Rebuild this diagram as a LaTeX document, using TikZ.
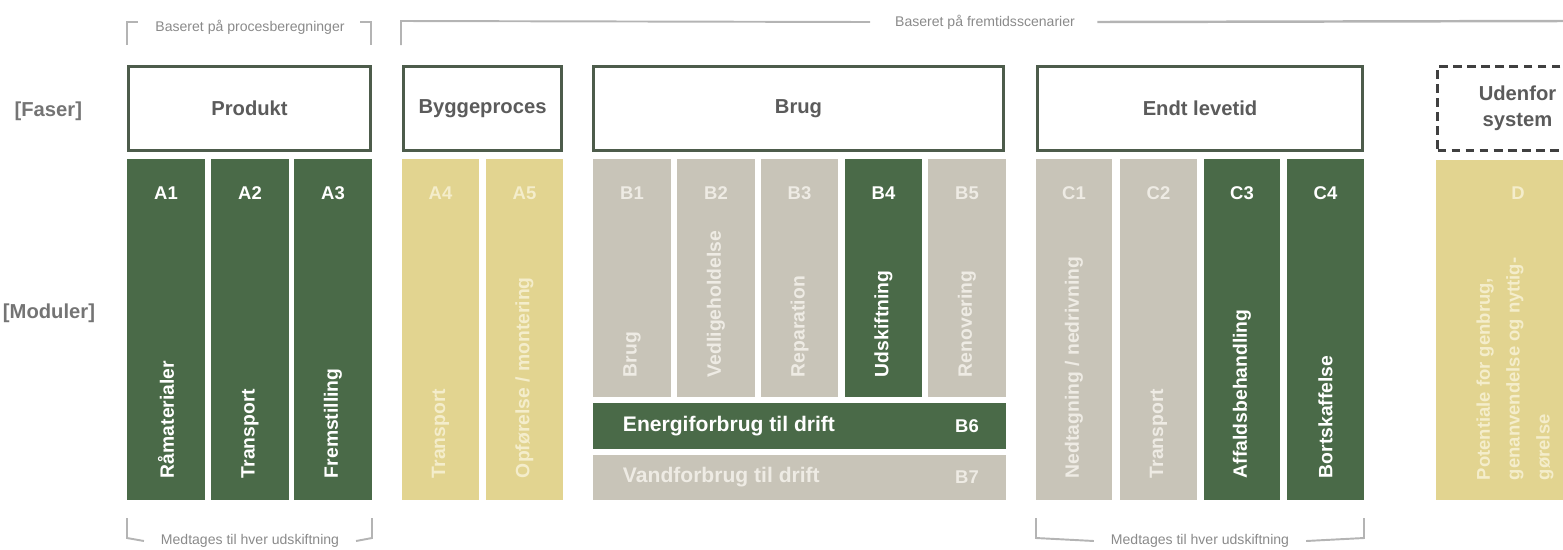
\documentclass[tikz,border=0pt]{standalone}
\usepackage{fontspec}
\setmainfont{Liberation Sans}
\usetikzlibrary{positioning}

\definecolor{moss}{HTML}{4A6A48}
\definecolor{stone}{HTML}{C8C4B8}
\definecolor{straw}{HTML}{E2D490}
\definecolor{frame}{HTML}{4D5C4B}
\definecolor{ink}{HTML}{5B5B5B}
\definecolor{note}{HTML}{8A8A8A}
\definecolor{rulegray}{HTML}{B4B4B4}
\definecolor{paleink}{HTML}{EEEBE4}
\definecolor{strawink}{HTML}{F4EDCB}

\begin{document}
\begin{tikzpicture}[x=0.02cm, y=-0.02cm,
  every node/.style={inner sep=0pt, outer sep=0pt},
  felt/.style 2 args={anchor=north west, minimum width=#1*0.02cm, minimum height=#2*0.02cm},
  fase/.style={draw=frame, line width=1.6pt, fill=white, text=ink, align=center,
    font=\bfseries\fontsize{11.5}{15}\selectfont},
  ude/.style={fase, draw=black!75, dash pattern=on 5pt off 3pt},
  gron/.style={fill=moss},
  graa/.style={fill=stone},
  gul/.style={fill=straw},
  kode/.style={font=\bfseries\fontsize{10.5}{12}\selectfont},
  navn/.style={rotate=90, anchor=west, font=\bfseries\fontsize{11}{13}\selectfont},
  bar/.style={font=\bfseries\fontsize{12}{14}\selectfont},
  noter/.style={text=note, font=\fontsize{8}{9}\selectfont},
  klamme/.style={draw=rulegray, line width=1.1pt},
  side/.style={anchor=east, text=ink!85, font=\bfseries\fontsize{11.5}{14}\selectfont}
]
\useasboundingbox (0,0) rectangle (1563,549);

% venstre
\node[side] (faser) at (82,111) {[Faser]};
\node[side] (moduler) at (95,313) {[Moduler]};

% faser
\node[fase, felt={242}{84}] (produkt) at (128.5,66.5) {Produkt};
\node[fase, felt={158}{84}] (bygge) at (403.5,66.5) {Byggeproces};
\node[fase, felt={410}{84}] (brug) at (593.5,66.5) {Brug};
\node[fase, felt={325}{84}] (endt) at (1037.5,66.5) {Endt levetid};
\node[ude, felt={160}{84}] (udenfor) at (1437.5,66.5) {Udenfor\\system};

% A
\node[gron, felt={78}{341}] (a1) at (127,159) {};
\node[gron, felt={78}{341}] (a2) at (211,159) {};
\node[gron, felt={78}{341}] (a3) at (294,159) {};
\node[gul, felt={77}{341}] (a4) at (402,159) {};
\node[gul, felt={77}{341}] (a5) at (486,159) {};

\node[kode, text=white] at ([yshift=-0.68cm]a1.north) {A1};
\node[kode, text=white] at ([yshift=-0.68cm]a2.north) {A2};
\node[kode, text=white] at ([yshift=-0.68cm]a3.north) {A3};
\node[kode, text=strawink] at ([yshift=-0.68cm]a4.north) {A4};
\node[kode, text=strawink] at ([yshift=-0.68cm]a5.north) {A5};

\node[navn, text=white] at ([yshift=0.44cm]a1.south) {Råmaterialer};
\node[navn, text=white] at ([yshift=0.44cm]a2.south) {Transport};
\node[navn, text=white] at ([yshift=0.44cm]a3.south) {Fremstilling};
\node[navn, text=strawink] at ([yshift=0.44cm]a4.south) {Transport};
\node[navn, text=strawink] at ([yshift=0.44cm]a5.south) {Opførelse / montering};

% B
\node[graa, felt={78}{238}] (b1) at (593,159) {};
\node[graa, felt={78}{238}] (b2) at (677,159) {};
\node[graa, felt={77}{238}] (b3) at (761,159) {};
\node[gron, felt={77}{238}] (b4) at (845,159) {};
\node[graa, felt={78}{238}] (b5) at (928,159) {};
\node[gron, felt={413}{46}] (b6) at (593,403) {};
\node[graa, felt={413}{45}] (b7) at (593,455) {};

\node[kode, text=paleink] at ([yshift=-0.68cm]b1.north) {B1};
\node[kode, text=paleink] at ([yshift=-0.68cm]b2.north) {B2};
\node[kode, text=paleink] at ([yshift=-0.68cm]b3.north) {B3};
\node[kode, text=white] at ([yshift=-0.68cm]b4.north) {B4};
\node[kode, text=paleink] at ([yshift=-0.68cm]b5.north) {B5};

\node[navn, text=paleink] at ([yshift=0.4cm]b1.south) {Brug};
\node[navn, text=paleink] at ([yshift=0.4cm]b2.south) {Vedligeholdelse};
\node[navn, text=paleink] at ([yshift=0.4cm]b3.south) {Reparation};
\node[navn, text=white] at ([yshift=0.4cm]b4.south) {Udskiftning};
\node[navn, text=paleink] at ([yshift=0.4cm]b5.south) {Renovering};

\node[bar, anchor=west, text=white] at ([xshift=0.6cm]b6.west) {Energiforbrug til drift};
\node[kode, text=white] at ([xshift=-0.78cm]b6.east) {B6};
\node[bar, anchor=west, text=paleink] at ([xshift=0.6cm]b7.west) {Vandforbrug til drift};
\node[kode, text=paleink] at ([xshift=-0.78cm]b7.east) {B7};

% C
\node[graa, felt={76}{341}] (c1) at (1036,159) {};
\node[graa, felt={77}{341}] (c2) at (1120,159) {};
\node[gron, felt={76}{341}] (c3) at (1204,159) {};
\node[gron, felt={77}{341}] (c4) at (1287,159) {};

\node[kode, text=paleink] at ([yshift=-0.68cm]c1.north) {C1};
\node[kode, text=paleink] at ([yshift=-0.68cm]c2.north) {C2};
\node[kode, text=white] at ([yshift=-0.68cm]c3.north) {C3};
\node[kode, text=white] at ([yshift=-0.68cm]c4.north) {C4};

\node[navn, text=paleink] at ([yshift=0.44cm]c1.south) {Nedtagning / nedrivning};
\node[navn, text=paleink] at ([yshift=0.44cm]c2.south) {Transport};
\node[navn, text=white] at ([yshift=0.44cm]c3.south) {Affaldsbehandling};
\node[navn, text=white] at ([yshift=0.44cm]c4.south) {Bortskaffelse};

% D
\node[gul, felt={164}{340}] (d) at (1436,160) {};
\node[kode, text=strawink] at ([yshift=-0.66cm]d.north) {D};
\node[navn, text=strawink, align=left, font=\bfseries\fontsize{10.5}{17}\selectfont]
  at ([yshift=0.4cm, xshift=-0.06cm]d.south) {Potentiale for genbrug,\\genanvendelse og nyttig-\\gørelse};

% klammer
\node[noter] (proces) at (250,27) {Baseret på procesberegninger};
\node[noter] (fremtid) at (985,22) {Baseret på fremtidsscenarier};
\node[noter] (medtag1) at (250,541) {Medtages til hver udskiftning};
\node[noter] (medtag2) at (1200,541) {Medtages til hver udskiftning};

\draw[klamme] (127,45) -- (127,22) -- (138,22);
\draw[klamme] (360,22) -- (371,22) -- (371,45);
\draw[klamme] (401,45) -- (401,21) -- ([xshift=-0.5cm]fremtid.west);
\draw[klamme, line width=1.4pt] ([xshift=0.45cm]fremtid.east) -- (1563,21);

\draw[klamme] (127,518) -- (127,538) -- ([xshift=-0.34cm]medtag1.west);
\draw[klamme] ([xshift=0.34cm]medtag1.east) -- (372,538) -- (372,518);
\draw[klamme] (1036,518) -- (1036,538) -- ([xshift=-0.34cm]medtag2.west);
\draw[klamme] ([xshift=0.34cm]medtag2.east) -- (1364,538) -- (1364,518);

\end{tikzpicture}
\end{document}
